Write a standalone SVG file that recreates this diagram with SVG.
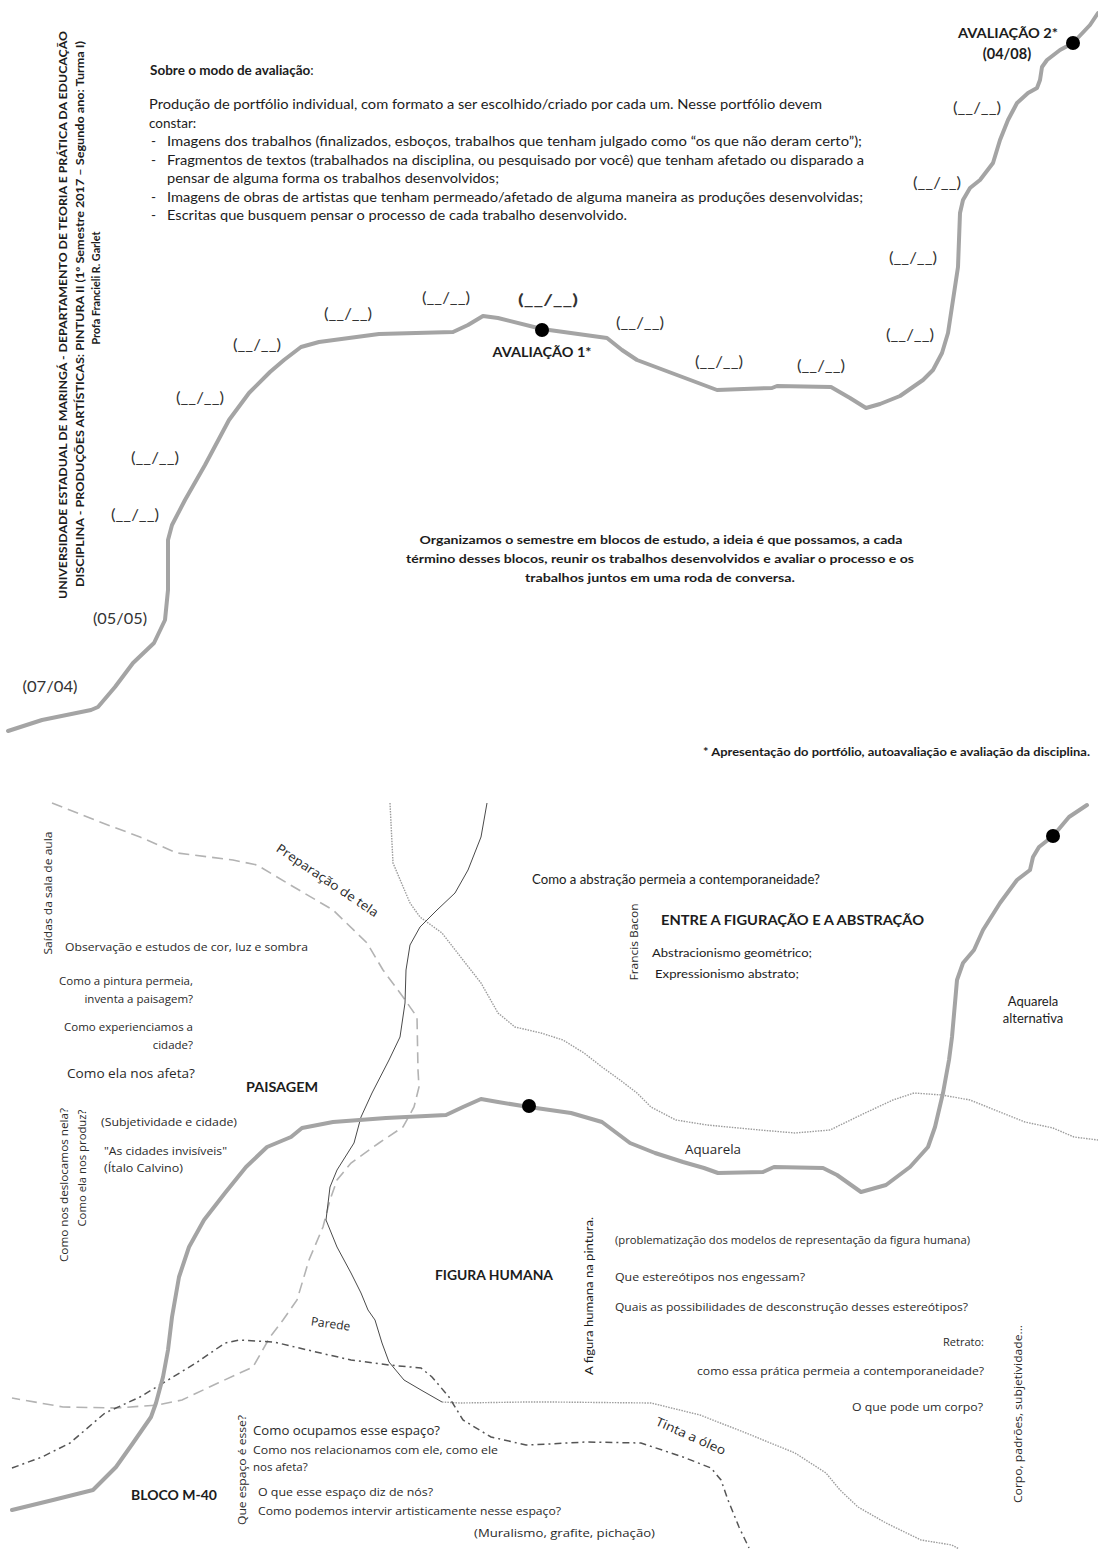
<svg xmlns="http://www.w3.org/2000/svg" width="1098" height="1549" viewBox="0 0 1098 1549">
<style>
.l{font-family:Lato,"Liberation Sans",sans-serif;fill:#1c1c1c}
.o{font-family:"Open Sans","Liberation Sans",sans-serif;fill:#2a2a2a}
.b{font-weight:bold}
.thick{fill:none;stroke:#a4a4a4;stroke-width:4;stroke-linejoin:round;stroke-linecap:round}
.dash{fill:none;stroke:#b3b3b3;stroke-width:1.6;stroke-dasharray:11 6}
.dot{fill:none;stroke:#9c9c9c;stroke-width:1.4;stroke-dasharray:1.5 1.2}
.thin{fill:none;stroke:#4a4a4a;stroke-width:1}
.dd{fill:none;stroke:#555;stroke-width:1.5;stroke-dasharray:7 4 2 4}
.lab{font-family:Lato,"Liberation Sans",sans-serif;fill:#333;font-size:15px;text-anchor:middle}
</style>
<rect width="1098" height="1549" fill="#fff"/>

<g id="connectors">
<path class="thick" d="M8,731 L42,720 L91,710 L98,707 L115,687 L133,663 L154,643 L165,620 L168,590 L168,540 L172,525 L185,500 L205,465 L229,420 L249,393 L270,372 L284,360 L301,347 L319,342 L379,334 L453,332 L468,325 L483,316 L498,318 L542,329 L607,338 L622,350 L637,360 L677,375 L717,390 L772,388 L777,386 L831,387 L850,398 L866,408 L880,404 L900,396 L923,380 L933,370 L942,353 L948,333 L953,300 L958,267 L960,213 L963,200 L970,188 L980,180 L993,163 L1000,140 L1008,120 L1017,103 L1028,93 L1037,88 L1040,80 L1042,67 L1047,60 L1060,50 L1073,43 L1090,25 L1098,13"/>
<path class="dash" d="M52,803 L100,822 L140,837 L177,853 L233,860 L257,865 L287,883 L333,910 L367,943 L383,970 L403,997 L417,1017 L418,1070 L419,1087 L414,1107 L403,1127 L379,1143 L351,1163 L337,1180 L330,1200 L323,1227 L309,1260 L297,1300 L283,1320 L270,1337 L253,1367 L218,1383 L182,1400 L158,1405 L116,1408 L63,1407 L12,1398"/>
<path class="dot" d="M390,803 L393,863 L410,903 L420,917 L442,933 L463,960 L481,983 L498,1013 L515,1027 L541,1033 L563,1040 L584,1053 L602,1067 L620,1080 L637,1093 L651,1107 L676,1120 L707,1125 L760,1130 L795,1133 L830,1130 L865,1113 L893,1100 L914,1093 L942,1095 L970,1100 L990,1108 L1025,1122 L1053,1128 L1074,1137 L1098,1140"/>
<path class="thin" d="M487,803 L481,837 L468,870 L455,893 L437,910 L420,927 L410,945 L406,970 L405,1003 L400,1037 L389,1060 L372,1093 L361,1117 L354,1143 L337,1170 L330,1187 L326,1220 L337,1247 L351,1273 L361,1293 L368,1310 L375,1320 L382,1343 L389,1362 L404,1380 L421,1390 L442,1402"/>
<path class="dot" d="M442,1402 L460,1403 L526,1402 L550,1402 L651,1403 L700,1415 L746,1433 L795,1453 L826,1473 L840,1490 L858,1507 L886,1523 L921,1540 L952,1545 L959,1549"/>
<path class="dd" d="M12,1468 L42,1457 L70,1443 L105,1413 L140,1397 L168,1380 L196,1363 L225,1343 L239,1340 L274,1342 L316,1352 L351,1360 L389,1365 L421,1368 L432,1377 L449,1397 L463,1420 L491,1437 L526,1445 L550,1444 L585,1442 L641,1443 L683,1457 L711,1468 L721,1480 L728,1500 L739,1527 L749,1548"/>
<path class="thick" d="M12,1510 L53,1500 L93,1490 L116,1467 L133,1443 L151,1417 L156,1403 L163,1377 L168,1350 L172,1317 L179,1277 L189,1247 L204,1220 L225,1193 L246,1167 L267,1147 L291,1137 L302,1128 L333,1122 L386,1118 L446,1115 L463,1107 L481,1099 L498,1102 L529,1107 L550,1110 L571,1113 L602,1122 L630,1143 L655,1153 L683,1162 L704,1168 L718,1173 L763,1172 L774,1167 L823,1168 L837,1175 L861,1192 L886,1185 L910,1167 L928,1147 L935,1127 L943,1093 L949,1060 L952,1037 L955,1003 L957,980 L963,963 L974,950 L983,930 L1000,903 L1017,880 L1030,870 L1033,857 L1039,847 L1053,836 L1069,817 L1087,805"/>
</g>

<g id="dots">
<circle cx="542" cy="330" r="7" fill="#000"/>
<circle cx="1073" cy="43" r="7" fill="#000"/>
<circle cx="529" cy="1106" r="7" fill="#000"/>
<circle cx="1053" cy="836" r="7" fill="#000"/>
</g>

<g id="header">
<text class="l b" font-size="11" text-anchor="middle" transform="translate(67,315) rotate(-90)" textLength="568" lengthAdjust="spacingAndGlyphs">UNIVERSIDADE ESTADUAL DE MARINGÁ - DEPARTAMENTO DE TEORIA E PRÁTICA DA EDUCAÇÃO</text>
<text class="l b" font-size="11" text-anchor="middle" transform="translate(84,314) rotate(-90)" textLength="546" lengthAdjust="spacingAndGlyphs">DISCIPLINA - PRODUÇÕES ARTÍSTICAS: PINTURA II (1º Semestre 2017 – Segundo ano: Turma I)</text>
<text class="l b" font-size="11" text-anchor="middle" transform="translate(100,288) rotate(-90)" textLength="113" lengthAdjust="spacingAndGlyphs">Profa  Francieli R. Garlet</text>
</g>

<g id="avaliacao-text">
<text class="l b" x="150" y="75" font-size="13.5">Sobre o modo de avaliação<tspan font-weight="normal">:</tspan></text>
<g class="l" font-size="13.5">
<text x="149" y="109" textLength="673" lengthAdjust="spacingAndGlyphs">Produção de portfólio individual, com formato a ser escolhido/criado por cada um. Nesse portfólio devem</text>
<text x="149" y="128">constar:</text>
<text x="151" y="146">-</text>
<text x="167" y="146" textLength="695" lengthAdjust="spacingAndGlyphs">Imagens dos trabalhos (finalizados, esboços, trabalhos que tenham julgado como “os que não deram certo”);</text>
<text x="151" y="165">-</text>
<text x="167" y="165" textLength="697" lengthAdjust="spacingAndGlyphs">Fragmentos de textos (trabalhados na disciplina, ou pesquisado por você) que tenham afetado ou disparado a</text>
<text x="167" y="183" textLength="332" lengthAdjust="spacingAndGlyphs">pensar de alguma forma os trabalhos desenvolvidos;</text>
<text x="151" y="202">-</text>
<text x="167" y="202" textLength="696" lengthAdjust="spacingAndGlyphs">Imagens de obras de artistas que tenham permeado/afetado de alguma maneira as produções desenvolvidas;</text>
<text x="151" y="220">-</text>
<text x="167" y="220" textLength="460" lengthAdjust="spacingAndGlyphs">Escritas que busquem pensar o processo de cada trabalho desenvolvido.</text>
</g>
</g>

<g id="avaliacao2">
<text class="l b" x="958" y="38" font-size="13" textLength="100" lengthAdjust="spacingAndGlyphs">AVALIAÇÃO 2*</text>
<text class="l b" x="1007" y="59" font-size="14.5" text-anchor="middle">(04/08)</text>
</g>
<g id="avaliacao1">
<text class="l b" x="542" y="357" font-size="13" text-anchor="middle" textLength="99" lengthAdjust="spacingAndGlyphs">AVALIAÇÃO 1*</text>
</g>

<g id="dates">
<text class="lab" x="977" y="113" textLength="48" lengthAdjust="spacingAndGlyphs">(__/__)</text>
<text class="lab" x="937" y="188" textLength="48" lengthAdjust="spacingAndGlyphs">(__/__)</text>
<text class="lab" x="913" y="263" textLength="48" lengthAdjust="spacingAndGlyphs">(__/__)</text>
<text class="lab" x="910" y="340" textLength="48" lengthAdjust="spacingAndGlyphs">(__/__)</text>
<text class="lab" x="821" y="371" textLength="48" lengthAdjust="spacingAndGlyphs">(__/__)</text>
<text class="lab" x="719" y="367" textLength="48" lengthAdjust="spacingAndGlyphs">(__/__)</text>
<text class="lab" x="640" y="328" textLength="48" lengthAdjust="spacingAndGlyphs">(__/__)</text>
<text class="lab" x="548" y="305" font-size="18" font-weight="bold" textLength="60" lengthAdjust="spacingAndGlyphs">(__/__)</text>
<text class="lab" x="446" y="303" textLength="48" lengthAdjust="spacingAndGlyphs">(__/__)</text>
<text class="lab" x="348" y="319" textLength="48" lengthAdjust="spacingAndGlyphs">(__/__)</text>
<text class="lab" x="257" y="350" textLength="48" lengthAdjust="spacingAndGlyphs">(__/__)</text>
<text class="lab" x="200" y="403" textLength="48" lengthAdjust="spacingAndGlyphs">(__/__)</text>
<text class="lab" x="155" y="463" textLength="48" lengthAdjust="spacingAndGlyphs">(__/__)</text>
<text class="lab" x="135" y="520" textLength="48" lengthAdjust="spacingAndGlyphs">(__/__)</text>
<text class="lab" x="120" y="624" textLength="54" lengthAdjust="spacingAndGlyphs">(05/05)</text>
<text class="lab" x="50" y="692" textLength="55" lengthAdjust="spacingAndGlyphs">(07/04)</text>
</g>

<g id="organizamos" class="l b" font-size="12" text-anchor="middle">
<text x="661" y="544" textLength="483" lengthAdjust="spacingAndGlyphs">Organizamos o semestre em blocos de estudo, a ideia é que possamos, a cada</text>
<text x="660" y="563" textLength="508" lengthAdjust="spacingAndGlyphs">término desses blocos, reunir os trabalhos desenvolvidos e avaliar o processo e os</text>
<text x="660" y="582" textLength="270" lengthAdjust="spacingAndGlyphs">trabalhos juntos em uma roda de conversa.</text>
</g>

<g id="nota">
<text class="l b" x="1090" y="756" font-size="12" text-anchor="end" textLength="387" lengthAdjust="spacingAndGlyphs">* Apresentação do portfólio, autoavaliação e avaliação da disciplina.</text>
</g>

<g id="saidas">
<text class="o" font-size="11" text-anchor="middle" transform="translate(52,893) rotate(-90)" textLength="123" lengthAdjust="spacingAndGlyphs">Saídas da sala de aula</text>
</g>
<g id="preparacao">
<text class="o" font-size="12.5" text-anchor="middle" transform="translate(325,884) rotate(34)" textLength="120" lengthAdjust="spacingAndGlyphs">Preparação de tela</text>
</g>

<g id="paisagem">
<text class="o" x="65" y="951" font-size="11.5" textLength="243" lengthAdjust="spacingAndGlyphs">Observação e estudos de cor, luz e sombra</text>
<text class="o" x="193" y="985" font-size="11.5" text-anchor="end">Como a pintura permeia,</text>
<text class="o" x="193" y="1003" font-size="11.5" text-anchor="end">inventa a paisagem?</text>
<text class="o" x="193" y="1031" font-size="11.5" text-anchor="end">Como experienciamos a</text>
<text class="o" x="193" y="1049" font-size="11.5" text-anchor="end">cidade?</text>
<text class="o" x="67" y="1078" font-size="12.5" textLength="128" lengthAdjust="spacingAndGlyphs">Como ela nos afeta?</text>
<text class="l b" x="246" y="1092" font-size="13.5" textLength="72" lengthAdjust="spacingAndGlyphs">PAISAGEM</text>
<text class="o" font-size="11.5" text-anchor="middle" transform="translate(68,1185) rotate(-90)" textLength="154" lengthAdjust="spacingAndGlyphs">Como nos deslocamos nela?</text>
<text class="o" font-size="11.5" text-anchor="middle" transform="translate(86,1168) rotate(-90)" textLength="117" lengthAdjust="spacingAndGlyphs">Como ela nos produz?</text>
<text class="o" x="101" y="1126" font-size="11" textLength="136" lengthAdjust="spacingAndGlyphs">(Subjetividade e cidade)</text>
<text class="o" x="104" y="1155" font-size="11" textLength="123" lengthAdjust="spacingAndGlyphs">"As cidades invisíveis"</text>
<text class="o" x="104" y="1172" font-size="11" textLength="79" lengthAdjust="spacingAndGlyphs">(Ítalo Calvino)</text>
</g>

<g id="abstracao">
<text class="l" x="532" y="884" font-size="12.5" textLength="288" lengthAdjust="spacingAndGlyphs">Como a abstração permeia a contemporaneidade?</text>
<text class="l b" x="661" y="925" font-size="14" textLength="263" lengthAdjust="spacingAndGlyphs">ENTRE A FIGURAÇÃO E A ABSTRAÇÃO</text>
<text class="o" font-size="10.5" text-anchor="middle" transform="translate(638,942) rotate(-90)" textLength="77" lengthAdjust="spacingAndGlyphs">Francis Bacon</text>
<text class="l" x="652" y="957" font-size="12" textLength="160" lengthAdjust="spacingAndGlyphs">Abstracionismo geométrico;</text>
<text class="l" x="655" y="978" font-size="12" textLength="144" lengthAdjust="spacingAndGlyphs">Expressionismo abstrato;</text>
</g>

<g id="aquarela-alternativa">
<text class="l" x="1033" y="1006" font-size="13" text-anchor="middle">Aquarela</text>
<text class="l" x="1033" y="1023" font-size="13" text-anchor="middle">alternativa</text>
</g>
<g id="aquarela">
<text class="o" x="685" y="1154" font-size="12.5" textLength="56" lengthAdjust="spacingAndGlyphs">Aquarela</text>
</g>

<g id="figura-humana">
<text class="l b" x="435" y="1280" font-size="13.5" textLength="118" lengthAdjust="spacingAndGlyphs">FIGURA HUMANA</text>
<text class="l" font-size="12" text-anchor="middle" transform="translate(593,1296) rotate(-90)" textLength="158" lengthAdjust="spacingAndGlyphs">A figura humana na pintura.</text>
<text class="o" x="615" y="1244" font-size="11" textLength="355" lengthAdjust="spacingAndGlyphs">(problematização dos modelos de representação da figura humana)</text>
<text class="o" x="615" y="1281" font-size="11.5" textLength="190" lengthAdjust="spacingAndGlyphs">Que estereótipos nos engessam?</text>
<text class="o" x="615" y="1311" font-size="11.5" textLength="353" lengthAdjust="spacingAndGlyphs">Quais as possibilidades de desconstrução desses estereótipos?</text>
<text class="o" x="984" y="1346" font-size="11" text-anchor="end">Retrato:</text>
<text class="o" x="984" y="1375" font-size="11" text-anchor="end" textLength="287" lengthAdjust="spacingAndGlyphs">como essa prática permeia a contemporaneidade?</text>
<text class="o" x="983" y="1411" font-size="11.5" text-anchor="end" textLength="131" lengthAdjust="spacingAndGlyphs">O que pode um corpo?</text>
<text class="o" font-size="11" text-anchor="middle" transform="translate(1022,1414) rotate(-90)" textLength="178" lengthAdjust="spacingAndGlyphs">Corpo, padrões, subjetividade...</text>
</g>

<g id="tinta">
<text class="o" font-size="12.5" text-anchor="middle" transform="translate(689,1440) rotate(24)" textLength="75" lengthAdjust="spacingAndGlyphs">Tinta a óleo</text>
</g>
<g id="parede">
<text class="o" font-size="12" text-anchor="middle" transform="translate(330,1328) rotate(8)">Parede</text>
</g>

<g id="bloco">
<text class="l b" x="131" y="1500" font-size="14" textLength="86" lengthAdjust="spacingAndGlyphs">BLOCO M-40</text>
<text class="o" font-size="11.5" text-anchor="middle" transform="translate(246,1470) rotate(-90)" textLength="110" lengthAdjust="spacingAndGlyphs">Que espaço é esse?</text>
<text class="o" x="253" y="1435" font-size="13" textLength="187" lengthAdjust="spacingAndGlyphs">Como ocupamos esse espaço?</text>
<text class="o" x="253" y="1454" font-size="11.5" textLength="245" lengthAdjust="spacingAndGlyphs">Como nos relacionamos com ele, como ele</text>
<text class="o" x="253" y="1471" font-size="11.5">nos afeta?</text>
<text class="o" x="258" y="1496" font-size="11.5" textLength="175" lengthAdjust="spacingAndGlyphs">O que esse espaço diz de nós?</text>
<text class="o" x="258" y="1515" font-size="11.5" textLength="303" lengthAdjust="spacingAndGlyphs">Como podemos intervir artisticamente nesse espaço?</text>
<text class="o" x="474" y="1537" font-size="11" textLength="181" lengthAdjust="spacingAndGlyphs">(Muralismo, grafite, pichação)</text>
</g>
</svg>
